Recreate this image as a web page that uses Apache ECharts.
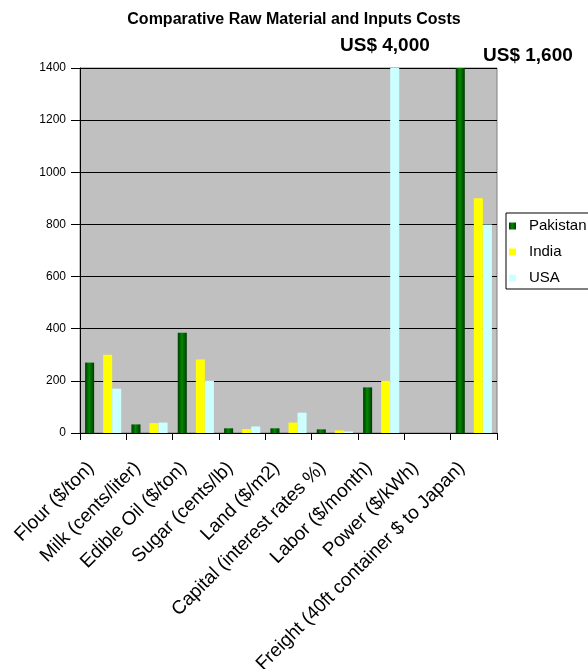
<!DOCTYPE html>
<html><head><meta charset="utf-8">
<script src="https://cdn.jsdelivr.net/npm/echarts@6/dist/echarts.min.js"></script>
<style>html,body{margin:0;padding:0;background:#fff}#c{width:588px;height:669px}</style>
</head><body><div id="c"></div>
<script>
const categories = ['Flour ($/ton)','Milk (cents/liter)','Edible Oil ($/ton)','Sugar (cents/lb)','Land ($/m2)','Capital (interest rates %)','Labor ($/month)','Power ($/kWh)','Freight (40ft container $ to Japan)'];
const pakistan = [270, 33, 385, 18, 18, 14, 175, '-', 1600];
const india    = [300, 38, 282, 15, 40, 10, 200, '-', 900];
const usa      = [170, 40, 200, 25, 78, 6, 4000, '-', 800];
const yTicks = [0,200,400,600,800,1000,1200,1400];
const notes = ['US$ 4,000','US$ 1,600'];
const FONT = 'Liberation Sans, Arial, sans-serif';

const chart = echarts.init(document.getElementById('c'), null, {renderer:'canvas'});
const green = new echarts.graphic.LinearGradient(0,0,1,0,[
  {offset:0,color:'#003a00'},{offset:0.45,color:'#008a00'},{offset:1,color:'#003a00'}]);
chart.setOption({
  animation:false,
  title:{text:'Comparative Raw Material and Inputs Costs',left:'center',top:7,
    textStyle:{fontFamily:FONT,fontSize:16,fontWeight:'bold',color:'#000'}},
  grid:{left:80,right:91,top:68,bottom:236,outerBoundsMode:'none',containLabel:false,
    show:true,backgroundColor:'#c0c0c0',borderColor:'#808080',borderWidth:1},
  legend:{data:['Pakistan','India','USA'],orient:'vertical',left:506,top:213,
    backgroundColor:'#fff',borderColor:'#000',borderWidth:1,padding:[5,10,3,3],itemGap:10,
    itemWidth:7,itemHeight:7,icon:'rect',
    textStyle:{fontFamily:FONT,fontSize:15,lineHeight:16,color:'#000',padding:[0,0,0,8]}},
  xAxis:{type:'category',data:categories,
    axisLine:{lineStyle:{color:'#000',width:1}},
    axisTick:{show:true,length:7,lineStyle:{color:'#000'}},
    axisLabel:{interval:0,rotate:45,fontFamily:FONT,fontSize:19,color:'#000',margin:20,padding:[0,17,0,0]}},
  yAxis:{type:'value',min:0,max:1400,interval:200,
    axisLine:{show:true,lineStyle:{color:'#000'}},
    axisTick:{show:true,length:9,lineStyle:{color:'#000'}},
    splitLine:{lineStyle:{color:'#000',width:1}},
    axisLabel:{fontFamily:FONT,fontSize:12,color:'#000',margin:14,
      formatter:v=>yTicks.includes(v)?String(v):''}},
  series:[
    {name:'Pakistan',type:'bar',data:pakistan,barGap:'0%',barCategoryGap:'22%',clip:true,
      itemStyle:{color:green}},
    {name:'_gap',type:'bar',data:categories.map(()=> '-'),barGap:'0%',barCategoryGap:'22%'},
    {name:'India',type:'bar',data:india,barGap:'0%',barCategoryGap:'22%',clip:true,
      itemStyle:{color:'#ffff00'}},
    {name:'USA',type:'bar',data:usa,barGap:'0%',barCategoryGap:'22%',clip:true,
      itemStyle:{color:'#ccffff'}}
  ],
  graphic:[
    {type:'text',left:340,top:36,style:{text:notes[0],font:'bold 19px '+FONT,fill:'#000'}},
    {type:'text',left:483,top:46,style:{text:notes[1],font:'bold 19px '+FONT,fill:'#000'}}
  ]
});
</script></body></html>
